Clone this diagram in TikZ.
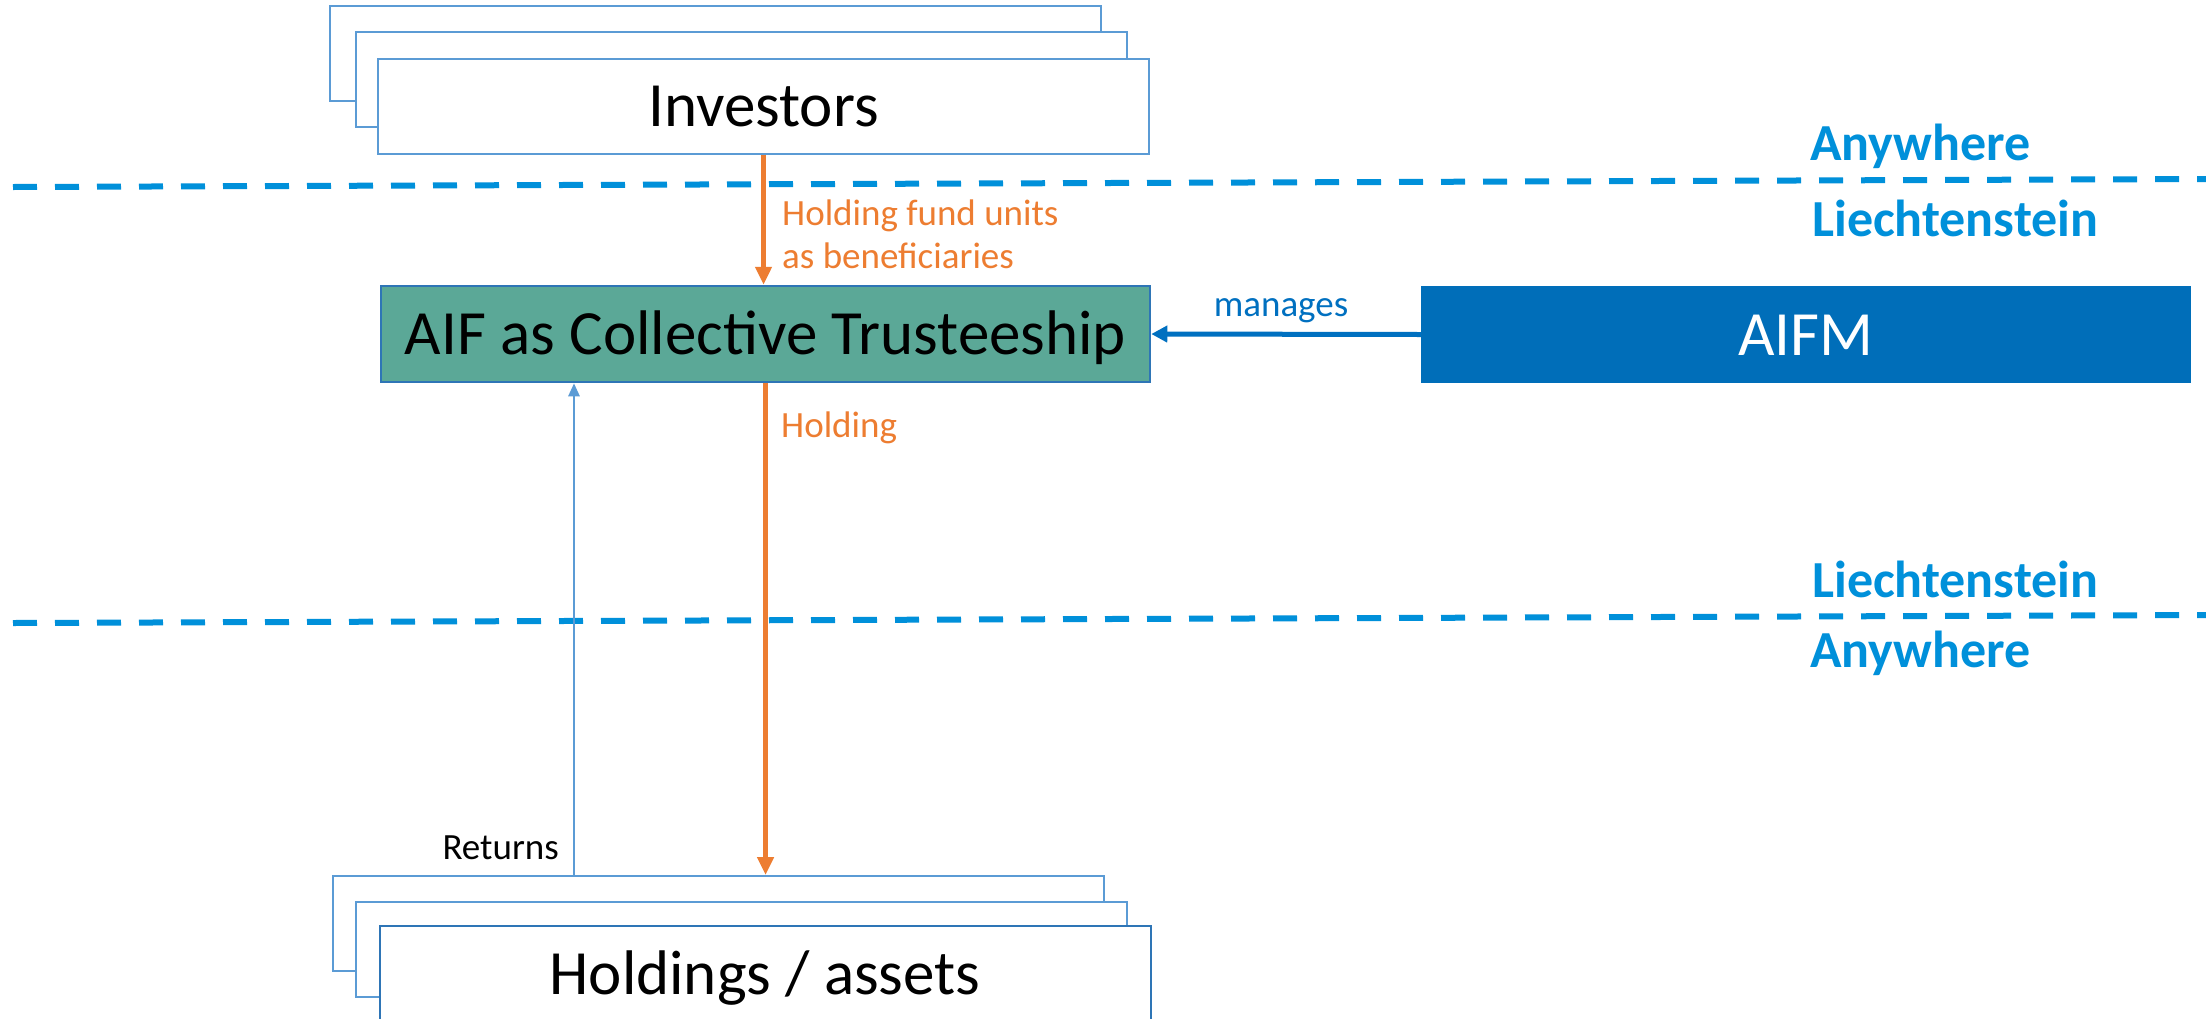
\documentclass[tikz,border=0pt]{standalone}
\usepackage{fontspec}
\setmainfont{Carlito}
\usetikzlibrary{arrows.meta}
\definecolor{zoneblue}{RGB}{0,144,218}
\definecolor{boxline}{RGB}{91,155,213}
\definecolor{darkline}{RGB}{46,117,182}
\definecolor{aiffill}{RGB}{91,168,151}
\definecolor{aifmfill}{RGB}{0,110,185}
\definecolor{mgblue}{RGB}{0,112,192}
\definecolor{orng}{RGB}{237,125,49}
\tikzset{
  stackbox/.style={draw=boxline, line width=2pt, fill=white, rectangle, minimum width=771pt, minimum height=95pt, inner sep=0pt, text height=41pt, text depth=0pt, font=\fontsize{63}{70}\selectfont},
  aifbox/.style={draw=darkline, line width=2.5pt, fill=aiffill, rectangle, minimum width=769pt, minimum height=96pt, inner sep=0pt, text height=41pt, text depth=0pt, font=\fontsize{63}{70}\selectfont},
  aifmbox/.style={draw=none, fill=aifmfill, rectangle, minimum width=770pt, minimum height=97pt, inner sep=0pt, text=white, text height=41pt, text depth=0pt, font=\fontsize{63}{70}\selectfont},
  zoneline/.style={draw=zoneblue, line width=6pt, dash pattern=on 24pt off 18pt},
  zonelbl/.style={text=zoneblue, inner sep=0pt, font=\fontsize{52}{60}\selectfont\bfseries},
  orlbl/.style={text=orng, inner sep=0pt, font=\fontsize{37}{43}\selectfont},
  smalllbl/.style={inner sep=0pt, font=\fontsize{37}{43}\selectfont},
  orarrow/.style={draw=orng, line width=5pt, -{Triangle[length=18pt,width=16pt]}},
  mgarrow/.style={draw=mgblue, line width=5pt, -{Triangle[length=16pt,width=16pt]}},
  retarrow/.style={draw=boxline, line width=2.5pt, -{Triangle[length=13pt,width=11pt]}},
}
\begin{document}
\begin{tikzpicture}[x=1pt,y=-1pt]
\useasboundingbox (0,0) rectangle (2206,1018);
\clip (0,0) rectangle (2206,1018);
\fill[white] (0,0) rectangle (2206,1018);

% zone lines
\coordinate (z1a) at (13,187);
\coordinate (z1b) at (2206,179);
\coordinate (z2a) at (13,623);
\coordinate (z2b) at (2206,615);
\draw[zoneline] (z1a) -- (z1b);
\draw[zoneline] (z2a) -- (z2b);
\node[zonelbl, anchor=base west] (any1) at (1810,160) {Anywhere};
\node[zonelbl, anchor=base west] (lie1) at (1812,236) {Liechtenstein};
\node[zonelbl, anchor=base west] (lie2) at (1812,597) {Liechtenstein};
\node[zonelbl, anchor=base west] (any2) at (1810,667) {Anywhere};

% investors stack
\node[stackbox] (inv3) at (715.5,53.5) {};
\node[stackbox] (inv2) at (741,79) {};
\node[stackbox] (inv) at (763.5,106) {Investors};

% AIF and AIFM
\node[aifbox] (aif) at (765.5,334) {AIF as Collective Trusteeship};
\node[aifmbox] (aifm) at (1806,334.5) {AIFM};

% holdings stack
\node[stackbox] (hold3) at (718,923.5) {};
\node[stackbox] (hold2) at (741.5,949) {};
\node[stackbox, draw=darkline] (hold) at (765,973.5) {Holdings / assets};

% connectors
\draw[orarrow] (inv.south) -- (inv.south |- aif.north);
\node[orlbl, anchor=base west] (lbl1) at (782,225) {Holding fund units};
\node[orlbl, anchor=base west] (lbl2) at (782,268) {as beneficiaries};

\draw[orarrow] (aif.south) -- (aif.south |- hold3.north);
\node[orlbl, anchor=base west] (lbl3) at (781,437) {Holding};

\draw[mgarrow] (aifm.west) -- (aif.east);
\node[smalllbl, text=mgblue, anchor=base] (lbl4) at (1281,316) {manages};

\coordinate (retx) at (574,0);
\draw[retarrow] (retx |- hold3.north) -- (retx |- aif.south);
\node[smalllbl, anchor=base east] (lbl5) at (559,859) {Returns};
\end{tikzpicture}
\end{document}
